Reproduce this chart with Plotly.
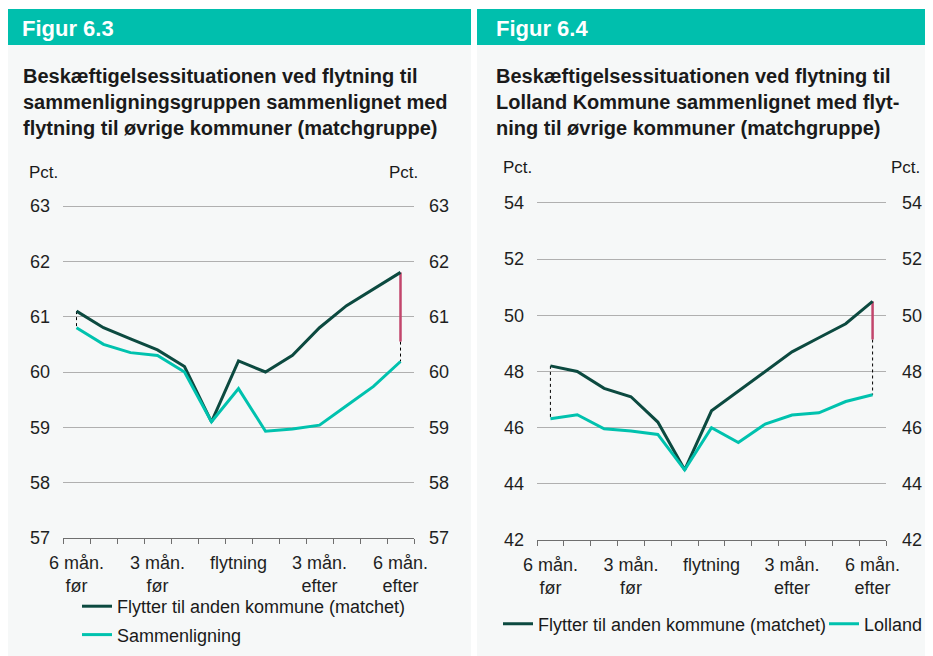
import plotly.graph_objects as go

# måneder i forhold til flytning
months = [-6, -5, -4, -3, -2, -1, 0, 1, 2, 3, 4, 5, 6]
tick_months = [-6, -3, 0, 3, 6]
tick_labels = ["6 mån.<br>før", "3 mån.<br>før", "flytning", "3 mån.<br>efter", "6 mån.<br>efter"]

# Figur 6.3
left_matched = [61.1, 60.8, 60.6, 60.4, 60.1, 59.1, 60.2, 60.0, 60.3, 60.8, 61.2, 61.5, 61.8]
left_compare = [60.8, 60.5, 60.35, 60.3, 60.0, 59.1, 59.7, 58.93, 58.97, 59.04, 59.39, 59.74, 60.19]
left_gap_end = 60.55
left_ticks = [57, 58, 59, 60, 61, 62, 63]

# Figur 6.4
right_matched = [48.2, 48.0, 47.4, 47.1, 46.2, 44.5, 46.6, 47.3, 48.0, 48.7, 49.2, 49.7, 50.5]
right_lolland = [46.32, 46.46, 45.96, 45.88, 45.76, 44.5, 46.0, 45.47, 46.13, 46.45, 46.53, 46.93, 47.17]
right_gap_end = 49.14
right_ticks = [42, 44, 46, 48, 50, 52, 54]

# siden har 8px body-margin; figuren er fuld størrelse og løber bare ud over kanten
OFF = 8
W, H = 933, 656
DARK = "#0c4a40"
TEAL = "#00c2ae"
PINK = "#c2466c"
HEAD = "#00bfad"
PANEL = "#f6f8f8"
FONT = "Liberation Sans, Arial, sans-serif"
PAD = 0.03  # lidt luft over øverste tick, så gitterlinjen tegnes


def px(x):
    return (x - OFF) / W


def py(y):
    return 1 - (y - OFF) / H


fig = go.Figure()


def add_panel(xa, ya, ya_r, matched, other, gap_end, other_name, legend_a, legend_b):
    first, last = months[0], months[-1]
    # stiplet forbindelse i start og slut
    fig.add_trace(go.Scatter(x=[first, first], y=[matched[0], other[0]], xaxis=xa, yaxis=ya,
                             mode="lines", line=dict(color="black", width=1, dash="3px,3px"),
                             showlegend=False, hoverinfo="skip"))
    fig.add_trace(go.Scatter(x=[last, last], y=[gap_end, other[-1]], xaxis=xa, yaxis=ya,
                             mode="lines", line=dict(color="black", width=1, dash="3px,3px"),
                             showlegend=False, hoverinfo="skip"))
    fig.add_trace(go.Scatter(x=[last, last], y=[matched[-1], gap_end], xaxis=xa, yaxis=ya,
                             mode="lines", line=dict(color=PINK, width=2.5),
                             showlegend=False, hoverinfo="skip"))
    fig.add_trace(go.Scatter(x=months, y=matched, xaxis=xa, yaxis=ya, mode="lines",
                             name="Flytter til anden kommune (matchet)", legend=legend_a,
                             legendgroup=legend_a + "a",
                             line=dict(color=DARK, width=3)))
    fig.add_trace(go.Scatter(x=months, y=other, xaxis=xa, yaxis=ya_r, mode="lines",
                             name=other_name, legend=legend_b, legendgroup=legend_b + "b",
                             line=dict(color=TEAL, width=3)))


add_panel("x", "y", "y2", left_matched, left_compare, left_gap_end, "Sammenligning",
          "legend", "legend")
add_panel("x2", "y3", "y4", right_matched, right_lolland, right_gap_end, "Lolland",
          "legend2", "legend3")

boundaries = [m - 0.5 for m in months] + [months[-1] + 0.5]
xrange = [months[0] - 0.5, months[-1] + 0.5]


def xaxis(domain, anchor):
    return dict(domain=domain, anchor=anchor, range=xrange, showgrid=False, zeroline=False,
                showline=True, linecolor="#6f6f6f", linewidth=1, automargin=False,
                tickmode="array", tickvals=tick_months, ticktext=tick_labels, ticks="",
                ticklabelstandoff=8,
                tickfont=dict(size=18, color="#1f1f1f"),
                minor=dict(tickmode="array", tickvals=boundaries, ticks="outside",
                           ticklen=5, tickcolor="#6f6f6f", showgrid=False))


def yaxis(domain, anchor, ticks, side="left", overlaying=None, standoff=12):
    step = ticks[1] - ticks[0]
    d = dict(domain=domain, anchor=anchor, range=[ticks[0], ticks[-1] + step * PAD],
             tickmode="array", tickvals=ticks, ticks="", side=side, automargin=False,
             showline=False, zeroline=False, ticklabelstandoff=standoff,
             tickfont=dict(size=18, color="#1f1f1f"))
    if overlaying:
        d.update(overlaying=overlaying, showgrid=False)
    else:
        d.update(showgrid=True, gridcolor="#b0b0b0", gridwidth=1)
    return d


def ydomain(bottom, top, nsteps):
    # top = pixel for øverste tick; domænet strækkes med PAD
    per = (bottom - top) / nsteps
    return [py(bottom), py(top - per * PAD)]


left_dom_x = [px(63), px(414)]
left_dom_y = ydomain(538, 206, 6)
right_dom_x = [px(537), px(886)]
right_dom_y = ydomain(540, 203, 6)

shapes = [
    dict(type="rect", xref="paper", yref="paper", x0=px(5), x1=px(471), y0=0, y1=py(45),
         fillcolor=PANEL, line_width=0, layer="below"),
    dict(type="rect", xref="paper", yref="paper", x0=px(477), x1=1, y0=0, y1=py(45),
         fillcolor=PANEL, line_width=0, layer="below"),
    dict(type="rect", xref="paper", yref="paper", x0=px(5), x1=px(471), y0=py(45), y1=py(9),
         fillcolor=HEAD, line_width=0, layer="below"),
    dict(type="rect", xref="paper", yref="paper", x0=px(477), x1=1, y0=py(45), y1=py(9),
         fillcolor=HEAD, line_width=0, layer="below"),
]

annotations = []


def text(x, y, s, size=18, bold=False, color="#1a1a1a", xanchor="left"):
    annotations.append(dict(x=px(x), y=py(y), xref="paper", yref="paper", text=f"<b>{s}</b>" if bold else s,
                            showarrow=False, xanchor=xanchor, yanchor="middle",
                            font=dict(size=size, color=color, family=FONT)))


text(20, 28, "Figur 6.3", size=22, bold=True, color="white")
text(494, 28, "Figur 6.4", size=22, bold=True, color="white")

left_title = ["Beskæftigelsessituationen ved flytning til",
              "sammenligningsgruppen sammenlignet med",
              "flytning til øvrige kommuner (matchgruppe)"]
right_title = ["Beskæftigelsessituationen ved flytning til",
               "Lolland Kommune sammenlignet med flyt-",
               "ning til øvrige kommuner (matchgruppe)"]
for i, (a, b) in enumerate(zip(left_title, right_title)):
    text(21, 76 + i * 26, a, size=20, bold=True)
    text(494, 76 + i * 26, b, size=20, bold=True)

text(27, 172, "Pct.", size=17)
text(420, 172, "Pct.", size=17, xanchor="right")
text(501, 167, "Pct.", size=17)
text(922, 167, "Pct.", size=17, xanchor="right")

legend_common = dict(bgcolor="rgba(0,0,0,0)", font=dict(size=18), itemwidth=30)

fig.update_layout(
    width=W, height=H, autosize=False,
    margin=dict(l=0, r=0, t=0, b=0),
    paper_bgcolor="white", plot_bgcolor="rgba(0,0,0,0)",
    font=dict(family=FONT, size=18, color="#1a1a1a"),
    xaxis=xaxis(left_dom_x, "y"),
    yaxis=yaxis(left_dom_y, "x", left_ticks),
    yaxis2=yaxis(left_dom_y, "x", left_ticks, side="right", overlaying="y", standoff=14),
    xaxis2=xaxis(right_dom_x, "y3"),
    yaxis3=yaxis(right_dom_y, "x2", right_ticks),
    yaxis4=yaxis(right_dom_y, "x2", right_ticks, side="right", overlaying="y3", standoff=15),
    legend=dict(x=px(77), y=py(588), xanchor="left", yanchor="top", orientation="v",
                tracegroupgap=2, **legend_common),
    legend2=dict(x=px(498), y=py(624), xanchor="left", yanchor="middle", orientation="h",
                 **legend_common),
    legend3=dict(x=px(824), y=py(624), xanchor="left", yanchor="middle", orientation="h",
                 **legend_common),
    shapes=shapes,
    annotations=annotations,
    showlegend=True,
)

fig.write_html("out.html")
